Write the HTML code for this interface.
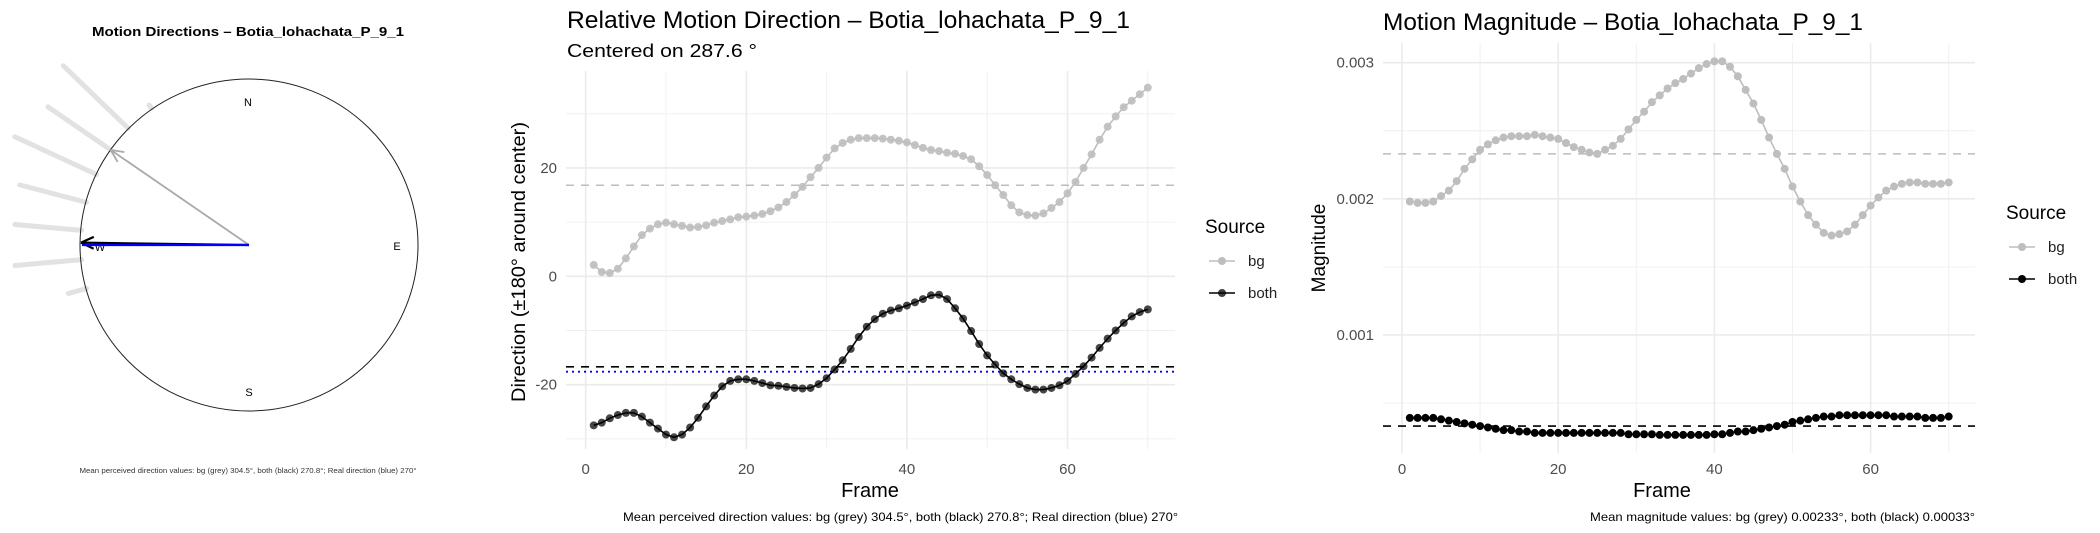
<!DOCTYPE html>
<html><head><meta charset="utf-8">
<style>
html,body{margin:0;padding:0;background:#fff;}
svg{display:block;font-family:"Liberation Sans",Arial,sans-serif;}
</style></head>
<body>
<svg id="root" width="2100" height="533" viewBox="0 0 2100 533" xmlns="http://www.w3.org/2000/svg">
  <!-- Panel 1: compass -->
  <g id="p1">
    <text x="248" y="36" text-anchor="middle" font-size="13" font-weight="bold" textLength="312" lengthAdjust="spacingAndGlyphs">Motion Directions – Botia_lohachata_P_9_1</text>
    <g id="rays"></g>
    <ellipse cx="249" cy="245" rx="169" ry="166" fill="none" stroke="#222" stroke-width="1"/>
    <text x="248" y="106" text-anchor="middle" font-size="11">N</text>
    <text x="397" y="250" text-anchor="middle" font-size="11">E</text>
    <text x="249" y="396" text-anchor="middle" font-size="11">S</text>
    <text x="100" y="251" text-anchor="middle" font-size="11">W</text>
    <g id="arrows"></g>
    <text x="248" y="473" text-anchor="middle" font-size="7.5" fill="#333" textLength="337" lengthAdjust="spacingAndGlyphs">Mean perceived direction values: bg (grey) 304.5°, both (black) 270.8°; Real direction (blue) 270°</text>
  </g>

  <!-- Panel 2 -->
  <g id="p2">
    <text x="567" y="28" font-size="24" textLength="563" lengthAdjust="spacingAndGlyphs">Relative Motion Direction – Botia_lohachata_P_9_1</text>
    <text x="567" y="57" font-size="18" textLength="190" lengthAdjust="spacingAndGlyphs">Centered on  287.6 °</text>
    <g id="p2grid"></g>
    <g id="p2ref"></g>
    <g id="p2data"></g>
    <g id="p2ticks"></g>
    <text transform="translate(525,262) rotate(-90)" text-anchor="middle" font-size="19" textLength="280" lengthAdjust="spacingAndGlyphs">Direction (±180° around center)</text>
    <text x="870" y="497" text-anchor="middle" font-size="20">Frame</text>
    <text x="1178" y="521" text-anchor="end" font-size="12" textLength="555" lengthAdjust="spacingAndGlyphs">Mean perceived direction values: bg (grey) 304.5°, both (black) 270.8°; Real direction (blue) 270°</text>
    <g>
      <text x="1205" y="233" font-size="19">Source</text>
      <line x1="1209" y1="261" x2="1235" y2="261" stroke="#bebebe" stroke-width="1.5"/>
      <circle cx="1222" cy="261" r="4" fill="#bebebe"/>
      <text x="1248" y="266" font-size="15" fill="#222">bg</text>
      <line x1="1209" y1="293" x2="1235" y2="293" stroke="#000" stroke-width="1.5"/>
      <circle cx="1222" cy="293" r="4" fill="#000" fill-opacity="0.75"/>
      <text x="1248" y="298" font-size="15" fill="#222">both</text>
    </g>
  </g>

  <!-- Panel 3 -->
  <g id="p3">
    <text x="1383" y="30" font-size="24" textLength="480" lengthAdjust="spacingAndGlyphs">Motion Magnitude – Botia_lohachata_P_9_1</text>
    <g id="p3grid"></g>
    <g id="p3ref"></g>
    <g id="p3data"></g>
    <g id="p3ticks"></g>
    <text transform="translate(1325,248) rotate(-90)" text-anchor="middle" font-size="19">Magnitude</text>
    <text x="1662" y="497" text-anchor="middle" font-size="20">Frame</text>
    <text x="1975" y="521" text-anchor="end" font-size="12" textLength="385" lengthAdjust="spacingAndGlyphs">Mean magnitude values: bg (grey) 0.00233°, both (black) 0.00033°</text>
    <g>
      <text x="2006" y="219" font-size="19">Source</text>
      <line x1="2009" y1="247" x2="2035" y2="247" stroke="#bebebe" stroke-width="1.5"/>
      <circle cx="2022" cy="247" r="4" fill="#bebebe"/>
      <text x="2048" y="252" font-size="15" fill="#222">bg</text>
      <line x1="2009" y1="279" x2="2035" y2="279" stroke="#000" stroke-width="1.5"/>
      <circle cx="2022" cy="279" r="4" fill="#000"/>
      <text x="2048" y="284" font-size="15" fill="#222">both</text>
    </g>
  </g>
</svg>
<script>
// ---- Compass data ----
const rayBearings = [314, 304.5, 294.8, 284.7, 275, 265, 255, 324.5];
const rayOuter = [258, 244, 258, 237, 235, 235, 187, 172];
const meanBgDir = 304.5;
const meanBothDir = 270.8;
const realDir = 270;

// ---- Direction panel data ----
const frames = Array.from({length:70},(_,i)=>i+1);
const dirBg = [2.1,0.8,0.6,1.4,3.3,5.5,7.6,8.8,9.6,9.9,9.6,9.3,9.0,9.1,9.4,9.9,10.2,10.5,10.9,11.0,11.2,11.5,12.0,12.7,13.7,15.0,16.5,18.3,20.0,21.9,23.6,24.6,25.2,25.5,25.5,25.5,25.4,25.2,25.0,24.7,24.2,23.7,23.3,23.1,22.8,22.6,22.2,21.6,20.3,18.7,16.8,15.0,13.1,11.8,11.3,11.2,11.6,12.6,13.7,15.3,17.4,20.0,22.5,25.2,27.6,29.5,31.2,32.4,33.6,34.8];
const dirBoth = [-27.5,-27.0,-26.2,-25.6,-25.2,-25.2,-25.9,-27.0,-28.1,-29.2,-29.7,-29.2,-27.9,-26.1,-24.0,-22.0,-20.3,-19.3,-19.0,-19.0,-19.3,-19.7,-20.1,-20.2,-20.4,-20.6,-20.7,-20.6,-19.9,-18.8,-17.2,-15.5,-13.4,-11.2,-9.3,-7.9,-6.9,-6.3,-5.9,-5.4,-4.8,-4.2,-3.5,-3.4,-4.2,-5.9,-7.8,-10.1,-12.5,-14.6,-16.3,-17.9,-19.0,-19.9,-20.6,-20.9,-20.9,-20.6,-20.1,-19.3,-18.0,-16.6,-15.0,-13.2,-11.5,-10.0,-8.6,-7.4,-6.6,-6.1];
const dirMeanBg = 16.8;
const dirMeanBoth = -16.7;
const dirReal = -17.6;
const dirYTicks = [-20, 0, 20];
const dirYMinor = [-30, -10, 10, 30];
const xTicks = [0, 20, 40, 60];
const xMinor = [10, 30, 50, 70];

// ---- Magnitude panel data ----
const magBg = [0.00198,0.00197,0.00197,0.00198,0.00202,0.00206,0.00213,0.00222,0.00229,0.00236,0.00240,0.00243,0.00245,0.00246,0.00246,0.00246,0.00247,0.00246,0.00245,0.00244,0.00241,0.00238,0.00236,0.00234,0.00233,0.00236,0.00239,0.00244,0.00251,0.00258,0.00264,0.00271,0.00276,0.00281,0.00285,0.00288,0.00292,0.00296,0.00299,0.00301,0.00301,0.00297,0.00290,0.00280,0.00270,0.00258,0.00245,0.00233,0.00222,0.00209,0.00198,0.00188,0.00181,0.00175,0.00173,0.00174,0.00176,0.00181,0.00188,0.00195,0.00201,0.00206,0.00209,0.00211,0.00212,0.00212,0.00211,0.00211,0.00211,0.00212];
const magBoth = [0.00039,0.00039,0.00039,0.00039,0.00038,0.00037,0.00036,0.00035,0.00034,0.00033,0.00032,0.00031,0.00030,0.00030,0.00029,0.00029,0.00028,0.00028,0.00028,0.00028,0.00028,0.00028,0.00028,0.00028,0.00028,0.00028,0.00028,0.00028,0.00027,0.00027,0.00027,0.00027,0.000265,0.000265,0.000265,0.000265,0.000265,0.000265,0.000265,0.00027,0.00027,0.00028,0.00029,0.00029,0.00030,0.00031,0.00032,0.00033,0.00034,0.00036,0.00037,0.00038,0.00039,0.00040,0.00040,0.00041,0.00041,0.00041,0.00041,0.00041,0.00041,0.00041,0.00040,0.00040,0.00040,0.00040,0.00039,0.00039,0.00039,0.00040];
const magMeanBg = 0.00233;
const magMeanBoth = 0.00033;
const magYTicks = [0.001, 0.002, 0.003];
const magYMinor = [0.0005, 0.0015, 0.0025];
const magTickLabels = ["0.001", "0.002", "0.003"];

const NS = "http://www.w3.org/2000/svg";
function mk(tag, attrs, parent){
  const e = document.createElementNS(NS, tag);
  for (const k in attrs) e.setAttribute(k, attrs[k]);
  parent.appendChild(e);
  return e;
}

// ---- Compass ----
(function(){
  const cx = 249, cy = 245, R = 168;
  const pt = (b, r) => [cx + r*Math.sin(b*Math.PI/180), cy - r*Math.cos(b*Math.PI/180)];
  const rays = document.getElementById('rays');
  rayBearings.forEach((b, i) => {
    const a = pt(b, R), c = pt(b, rayOuter[i]);
    const l = mk('line', {x1:a[0], y1:a[1], x2:c[0], y2:c[1], stroke:'#e2e2e2', 'stroke-width':5, 'stroke-linecap':'round'}, rays);
    
    
  });
  const ar = document.getElementById('arrows');
  function arrow(b, len, color, w, name){
    const e = pt(b, len);
    const g = mk('g', {}, ar);
    
    
    mk('line', {x1:cx, y1:cy, x2:e[0], y2:e[1], stroke:color, 'stroke-width':w}, g);
    [25, -25].forEach(d => {
      const hb = (b + 180 + d) * Math.PI/180;
      mk('line', {x1:e[0], y1:e[1], x2:e[0]+14*Math.sin(hb), y2:e[1]-14*Math.cos(hb), stroke:color, 'stroke-width':w}, g);
    });
  }
  arrow(meanBgDir, R, '#aaaaaa', 1.8, 'bg-mean-arrow');
  arrow(meanBothDir, R, '#000000', 2.2, 'both-mean-arrow');
  const e = pt(realDir, R - 1);
  const bl = mk('line', {x1:cx, y1:cy, x2:e[0], y2:e[1], stroke:'#0000ff', 'stroke-width':2.2}, ar);
  
  
})();

// ---- Generic line panel ----
function panel(o){
  const grid = document.getElementById(o.id+'grid');
  const ref = document.getElementById(o.id+'ref');
  const dat = document.getElementById(o.id+'data');
  const tk = document.getElementById(o.id+'ticks');
  const X = f => o.x0 + f*o.xs;
  const Y = v => o.yAt(v);
  o.yMinor.forEach(v => mk('line', {x1:o.left, x2:o.right, y1:Y(v), y2:Y(v), stroke:'#f0f0f0', 'stroke-width':1}, grid));
  xMinor.forEach(v => mk('line', {x1:X(v), x2:X(v), y1:o.top, y2:o.bottom, stroke:'#f0f0f0', 'stroke-width':1}, grid));
  o.yTicks.forEach((v,i) => {
    mk('line', {x1:o.left, x2:o.right, y1:Y(v), y2:Y(v), stroke:'#ebebeb', 'stroke-width':1.6}, grid);
    const t = mk('text', {x:o.left-9, y:Y(v)+5, 'text-anchor':'end', 'font-size':15, fill:'#4d4d4d'}, tk);
    t.textContent = o.yLabels[i];
    
    
  });
  xTicks.forEach(v => {
    mk('line', {x1:X(v), x2:X(v), y1:o.top, y2:o.bottom, stroke:'#ebebeb', 'stroke-width':1.6}, grid);
    const t = mk('text', {x:X(v), y:474, 'text-anchor':'middle', 'font-size':15, fill:'#4d4d4d'}, tk);
    t.textContent = String(v);
    
    
  });
  o.refs.forEach(r => {
    const l = mk('line', {x1:o.left, x2:o.right, y1:Y(r.v), y2:Y(r.v), stroke:r.c, 'stroke-width':r.w, 'stroke-dasharray':r.d}, ref);
    
    
  });
  o.series.forEach(s => {
    const g = mk('g', {}, dat);
    
    
    const d = s.vals.map((v,i) => (i?'L':'M') + X(frames[i]).toFixed(2) + ',' + Y(v).toFixed(2)).join('');
    mk('path', {d:d, fill:'none', stroke:s.line, 'stroke-width':1.6}, g);
    s.vals.forEach((v,i) => {
      const c = mk('circle', {cx:X(frames[i]), cy:Y(v), r:4, fill:s.pt, 'fill-opacity':s.op}, g);
      
      
    });
  });
}

panel({
  id:'p2', left:566, right:1175, top:71, bottom:449,
  x0:585.7, xs:8.03,
  yAt: v => 276.3 - v*5.42,
  yTicks: dirYTicks, yMinor: dirYMinor, yLabels: dirYTicks.map(String),
  refs: [
    {v:dirMeanBg, c:'#bdbdbd', w:1.6, d:'8,7', name:'bg-mean-line'},
    {v:dirMeanBoth, c:'#000', w:1.6, d:'8,7', name:'both-mean-line'},
    {v:dirReal, c:'#0000ff', w:1.8, d:'2,4', name:'real-direction-line'}
  ],
  series: [
    {name:'series-bg', vals:dirBg, line:'#bebebe', pt:'#bebebe', op:0.9},
    {name:'series-both', vals:dirBoth, line:'#000', pt:'#000', op:0.72}
  ]
});

panel({
  id:'p3', left:1383, right:1975, top:43, bottom:453,
  x0:1402, xs:7.81,
  yAt: v => 471 - v*136100,
  yTicks: magYTicks, yMinor: magYMinor, yLabels: magTickLabels,
  refs: [
    {v:magMeanBg, c:'#bdbdbd', w:1.6, d:'8,7', name:'bg-mean-line'},
    {v:magMeanBoth, c:'#000', w:1.6, d:'8,7', name:'both-mean-line'}
  ],
  series: [
    {name:'series-bg', vals:magBg, line:'#bebebe', pt:'#bebebe', op:1},
    {name:'series-both', vals:magBoth, line:'#000', pt:'#000', op:1}
  ]
});
</script>
</body></html>
